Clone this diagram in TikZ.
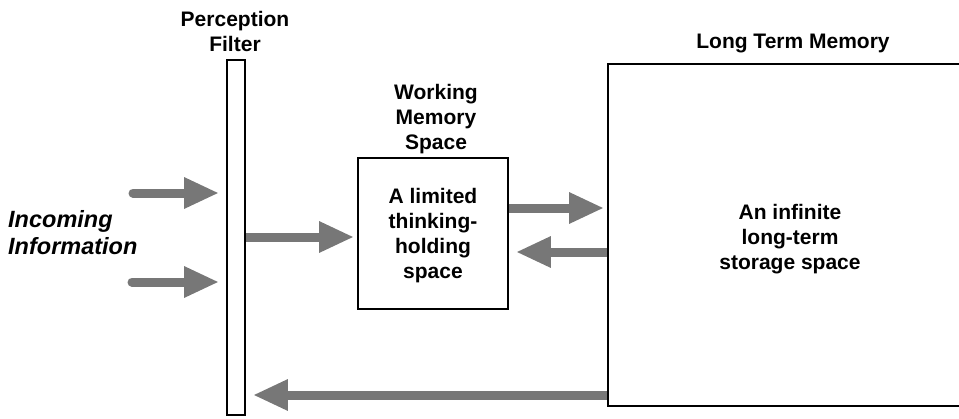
\documentclass[tikz,border=0pt]{standalone}
\usepackage{fontspec}
\setmainfont{Liberation Sans}
\usetikzlibrary{arrows.meta}
\definecolor{flowgray}{HTML}{777777}
\tikzset{
  box/.style={draw=black, line width=1.8pt, fill=white, inner sep=0pt},
  label/.style={font=\fontsize{21}{25}\selectfont\bfseries, align=center, inner sep=0pt},
  flow/.style={draw=flowgray, line width=9pt,
    -{Triangle[length=35pt,width=29pt]}},
}
\begin{document}
\begin{tikzpicture}[x=1pt, y=-1pt]
  \useasboundingbox (0,0) rectangle (959,418);
  \clip (0,0) rectangle (959,418);

  % boxes
  \node[box, minimum width=18pt, minimum height=355pt] (filter) at (236,237.5) {};
  \node[box, minimum width=150pt, minimum height=151pt] (wm) at (433,233.5) {};
  \node[box, minimum width=360pt, minimum height=342pt] (ltm) at (788,235) {};

  % titles
  \node[label] (filtertitle) at (235,31) {Perception\\Filter};
  \node[label] (wmtitle) at (436,119) {Working\\Memory\\Space};
  \node[label] (ltmtitle) at (793,43) {Long Term Memory};

  % box contents
  \node[label] (wmtext) at (433,236) {A limited\\thinking-\\holding\\space};
  \node[label] (ltmtext) at (790,239) {An infinite\\long-term\\storage space};

  % incoming side
  \node[font=\fontsize{23.5}{27}\selectfont\bfseries\itshape, align=left,
        inner sep=0pt, anchor=west] (incoming) at (8,232.5) {Incoming\\Information};
  \coordinate (in1) at (133,193);
  \coordinate (in2) at (132,282);

  % flows
  \draw[flow, line cap=round, shorten >=7pt] (in1) -- (in1 -| filter.west);
  \draw[flow, line cap=round, shorten >=7pt] (in2) -- (in2 -| filter.west);
  \draw[flow, shorten >=3pt] (filter.east |- 0,237) -- (wm.west |- 0,237);
  \draw[flow, shorten >=3pt] (wm.east |- 0,208) -- (ltm.west |- 0,208);
  \draw[flow, shorten >=7pt] (ltm.west |- 0,252) -- (wm.east |- 0,252);
  \draw[flow, shorten >=7pt] (ltm.west |- 0,395) -- (filter.east |- 0,395);
\end{tikzpicture}
\end{document}
